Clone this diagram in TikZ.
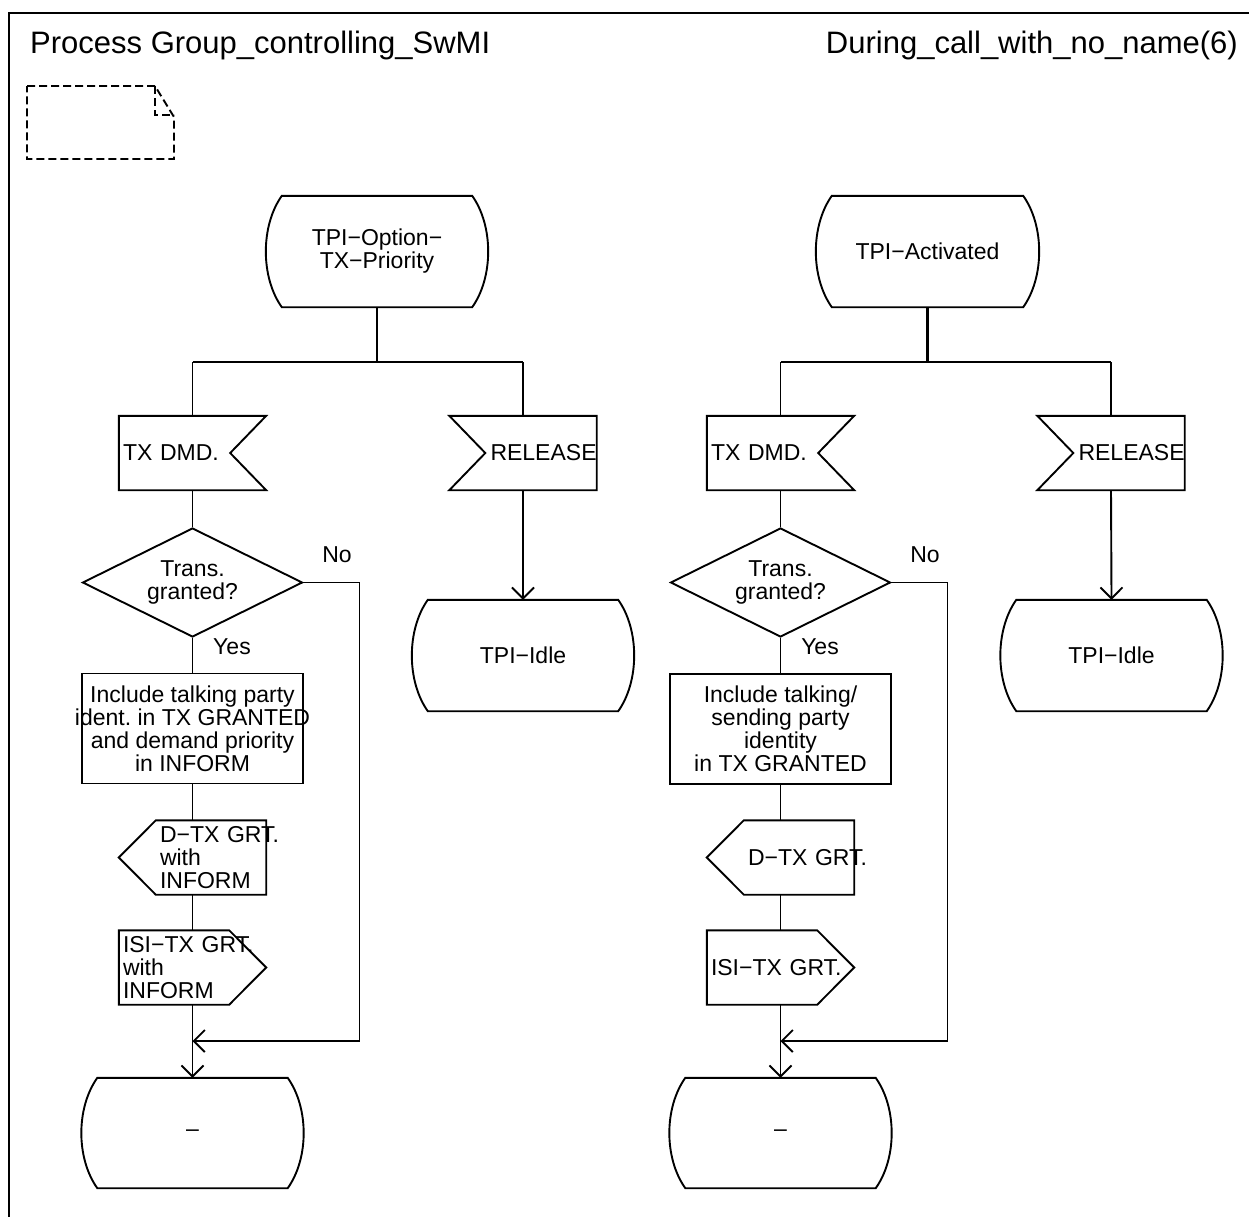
\documentclass[tikz,border=0pt]{standalone}
\usepackage{fontspec}
\setmainfont{Liberation Sans}
\usepackage{tikz}
\usetikzlibrary{shapes.geometric, arrows.meta}
\frenchspacing

\begin{document}
\begin{tikzpicture}[x=1pt, y=-1pt,
        sdl/.style={line width=1.9pt},
        stem/.style={line width=2.8pt},
        flow/.style={sdl, -{Straight Barb[length=11pt, width=22pt]}},
        txt/.style={font=\fontsize{23pt}{23pt}\selectfont},
        lbl/.style={txt, inner sep=0pt},
        title/.style={font=\fontsize{31pt}{31pt}\selectfont, inner sep=0pt},
        sdlstate/.style={txt, minimum width=222pt, minimum height=111pt, inner sep=0pt, align=center,
            append after command={\pgfextra{\draw[sdl]
                ([xshift=16pt]\tikzlastnode.north west) -- ([xshift=-16pt]\tikzlastnode.north east)
                .. controls ([xshift=5.3pt, yshift=-30pt]\tikzlastnode.north east)
                        and ([xshift=5.3pt, yshift=30pt]\tikzlastnode.south east)
                .. ([xshift=-16pt]\tikzlastnode.south east)
                -- ([xshift=16pt]\tikzlastnode.south west)
                .. controls ([xshift=-5.3pt, yshift=30pt]\tikzlastnode.south west)
                        and ([xshift=-5.3pt, yshift=-30pt]\tikzlastnode.north west)
                .. cycle;}}},
        sdltask/.style={txt, sdl, draw, minimum width=221pt, minimum height=110pt, inner xsep=0pt, align=center},
        sdldecision/.style={txt, sdl, draw, diamond, aspect=2, minimum width=220pt, minimum height=109pt, inner sep=0pt, align=center},
        sdlsig/.style={txt, minimum width=147pt, minimum height=74pt, inner xsep=4pt, inner ysep=0pt, align=left},
        % input, notch on the left / right
        inleft/.style={sdlsig, text width=65pt,
            append after command={\pgfextra{\draw[sdl]
                (\tikzlastnode.north west) -- (\tikzlastnode.north east) -- (\tikzlastnode.south east)
                -- (\tikzlastnode.south west) -- ([xshift=36pt]\tikzlastnode.west) -- cycle;}}},
        inright/.style={sdlsig, text width=139pt,
            append after command={\pgfextra{\draw[sdl]
                (\tikzlastnode.north west) -- (\tikzlastnode.north east) -- ([xshift=-36pt]\tikzlastnode.east)
                -- (\tikzlastnode.south east) -- (\tikzlastnode.south west) -- cycle;}}},
        % output, pointing left / right
        outleft/.style={sdlsig, text width=65pt,
            append after command={\pgfextra{\draw[sdl]
                ([xshift=37pt]\tikzlastnode.north west) -- (\tikzlastnode.north east) -- (\tikzlastnode.south east)
                -- ([xshift=37pt]\tikzlastnode.south west) -- (\tikzlastnode.west) -- cycle;}}},
        outright/.style={sdlsig, text width=139pt,
            append after command={\pgfextra{\draw[sdl]
                (\tikzlastnode.north west) -- ([xshift=-37pt]\tikzlastnode.north east) -- (\tikzlastnode.east)
                -- ([xshift=-37pt]\tikzlastnode.south east) -- (\tikzlastnode.south west) -- cycle;}}}
    ]
    \useasboundingbox (0,0) rectangle (1249,1216);

    % frame and heading
    \draw[line width=2pt] (9,1230) -- (9,13) -- (1260,13);
    \node[title, anchor=base west] (ttl) at (30,53) {Process Group\_controlling\_SwMI};
    \node[title, anchor=base east] (pg) at (1238,53) {During\_call\_with\_no\_name(6)};

    % text extension symbol
    \draw[sdl, dash pattern=on 8pt off 4pt] (27,86) -- (155,86) -- (174,117) -- (174,159) -- (27,159) -- cycle;
    \draw[sdl, dash pattern=on 8pt off 4pt] (155,86) -- (155,115) -- (174,115);

    % Left branch (TPI-Option-TX-Priority)
    \node[sdlstate] (st1) at (377,251.5) {TPI−Option−\\TX−Priority};
    \coordinate (br1) at (377,362);
    \coordinate (brl1) at (192.5,362);
    \coordinate (brr1) at (523,362);
    \node[inright] (in1) at (192.5,453) {TX~DMD.};
    \node[inleft] (rel1) at (523,453) {RELEASE};
    \node[sdlstate] (idle1) at (523,655.5) {TPI−Idle};
    \node[sdldecision] (dec1) at (192.5,582.5) {Trans.\\granted?};
    \node[lbl] (no1) at (337,555) {No};
    \node[lbl] (yes1) at (232,647) {Yes};
    \node[sdltask, inner xsep=-7pt] (task1) at (192.5,728.5) {Include talking party\\ident. in TX GRANTED\\and demand priority\\in INFORM};
    \node[outleft] (out1) at (192.5,857.5) {D−TX~GRT.\\with\\INFORM};
    \node[outright] (isi1) at (192.5,967.5) {ISI−TX~GRT.\\with\\INFORM};
    \coordinate (jn1) at (192.5,1041);
    \node[sdlstate, minimum height=110pt] (end1) at (192.5,1133) {–};

    \draw[stem] (st1.south) -- (br1);
    \draw[stem] (brl1) -- (brr1);
    \draw[sdl] (brl1) -- (in1.north);
    \draw[sdl] (brr1) -- (rel1.north);
    \draw[flow] (rel1.south) -- (idle1.north);
    \draw[sdl] (in1.south) -- (dec1.north);
    \draw[sdl] (dec1.south) -- (task1.north);
    \draw[sdl] (task1.south) -- (out1.north);
    \draw[sdl] (out1.south) -- (isi1.north);
    \draw[flow] (isi1.south) -- (end1.north);
    \draw[flow] (dec1.east) -- ++(56,0) |- (jn1);

    % Right branch (TPI-Activated)
    \node[sdlstate, minimum width=223pt] (st2) at (927.5,251.5) {TPI−Activated};
    \coordinate (br2) at (927.5,362);
    \coordinate (brl2) at (780.5,362);
    \coordinate (brr2) at (1111,362);
    \node[inright] (in2) at (780.5,453) {TX~DMD.};
    \node[inleft] (rel2) at (1111,453) {RELEASE};
    \node[sdlstate] (idle2) at (1111.5,655.5) {TPI−Idle};
    \node[sdldecision] (dec2) at (780.5,582.5) {Trans.\\granted?};
    \node[lbl] (no2) at (925,555) {No};
    \node[lbl] (yes2) at (820,647) {Yes};
    \node[sdltask] (task2) at (780.5,729) {Include talking/\\sending party\\identity\\in TX GRANTED};
    \node[outleft] (out2) at (780.5,857.5) {D−TX~GRT.};
    \node[outright] (isi2) at (780.5,967.5) {ISI−TX~GRT.};
    \coordinate (jn2) at (780.5,1041);
    \node[sdlstate, minimum height=110pt] (end2) at (780.5,1133) {–};

    \draw[stem] (st2.south) -- (br2);
    \draw[stem] (brl2) -- (brr2);
    \draw[sdl] (brl2) -- (in2.north);
    \draw[sdl] (brr2) -- (rel2.north);
    \draw[flow] (rel2.south) -- (idle2.north);
    \draw[sdl] (in2.south) -- (dec2.north);
    \draw[sdl] (dec2.south) -- (task2.north);
    \draw[sdl] (task2.south) -- (out2.north);
    \draw[sdl] (out2.south) -- (isi2.north);
    \draw[flow] (isi2.south) -- (end2.north);
    \draw[flow] (dec2.east) -- ++(56,0) |- (jn2);
\end{tikzpicture}
\end{document}
